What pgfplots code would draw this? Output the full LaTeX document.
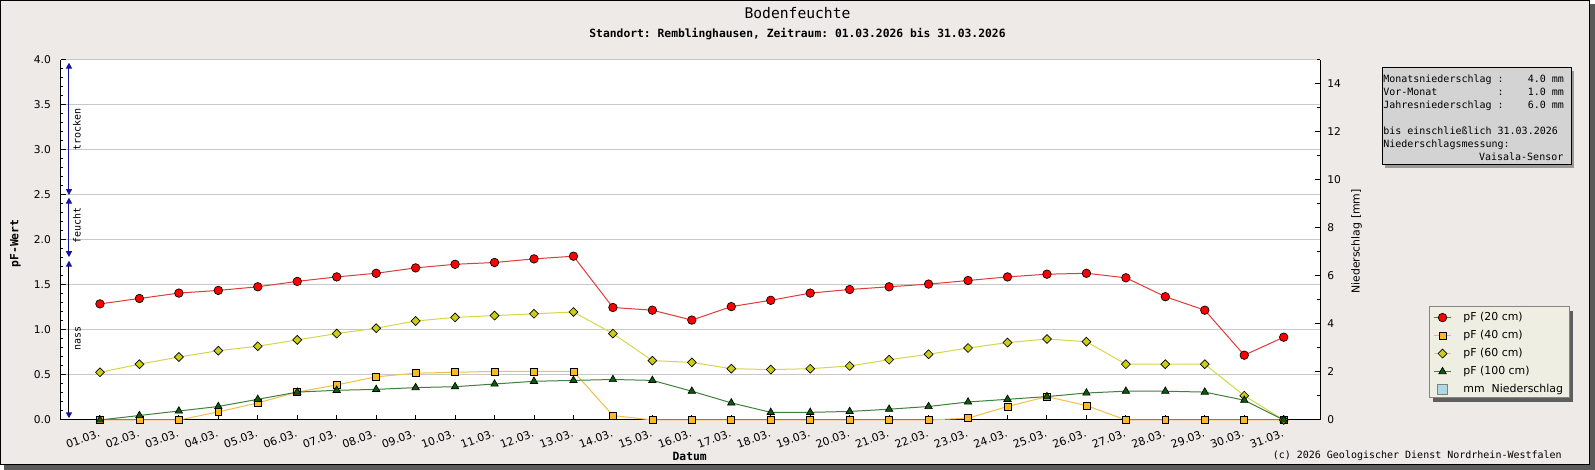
\documentclass[border=0pt]{standalone}
\usepackage{fontspec}
\setmainfont{DejaVu Sans}
\setmonofont{DejaVu Sans Mono}
\usepackage{pgfplots}
\pgfplotsset{compat=1.18}
\usetikzlibrary{arrows.meta}

\definecolor{bgc}{HTML}{EDEAE8}
\definecolor{framesh}{HTML}{5A5A5A}
\definecolor{gridc}{HTML}{C8C8C8}
\definecolor{c20}{HTML}{FF0000}
\definecolor{l20}{HTML}{E03A3A}
\definecolor{c40}{HTML}{FBB827}
\definecolor{l40}{HTML}{F2BE4A}
\definecolor{c60}{HTML}{CCCC1A}
\definecolor{l60}{HTML}{D6D64A}
\definecolor{c100}{HTML}{0A5E0A}
\definecolor{l100}{HTML}{3F7F3F}
\definecolor{annblue}{HTML}{1414A0}
\definecolor{legbg}{HTML}{EEEEE3}
\definecolor{legbd}{HTML}{858585}
\definecolor{legsh}{HTML}{5E5E5E}
\definecolor{infobg}{HTML}{D3D3D3}
\definecolor{infosh}{HTML}{9A9A9A}
\definecolor{nsblue}{HTML}{ADD8E6}

\newcommand\fmono{\fontsize{7.5}{9}\selectfont\ttfamily}
\newcommand\fmonob{\fontsize{8.5}{10}\selectfont\ttfamily\bfseries}
\frenchspacing

\begin{document}
\begin{tikzpicture}[x=0.75pt,y=0.75pt]
% frame with shadow
\fill[framesh] (4,0) rectangle (1595,466);
\filldraw[fill=bgc, draw=black, line width=0.75pt] (0.5,5.5) rectangle (1589.5,469.5);
% legend box with shadow
\fill[legsh] (1433,68) rectangle (1573,159);
\filldraw[fill=legbg, draw=legbd, line width=0.75pt] (1429,72) rectangle (1569,163);

\begin{axis}[
  at={(45.375pt,37.5pt)}, anchor=south west,
  scale only axis, width=944.625pt, height=270pt,
  xmin=0, xmax=31.92, ymin=0, ymax=4,
  clip=false,
  axis background/.style={fill=white},
  axis x line*=bottom, axis y line*=left,
  axis line style={-, black, line width=0.75pt},
  tick pos=left,
  xtick={1,...,31},
  xticklabels={01.03.,02.03.,03.03.,04.03.,05.03.,06.03.,07.03.,08.03.,09.03.,10.03.,11.03.,12.03.,13.03.,14.03.,15.03.,16.03.,17.03.,18.03.,19.03.,20.03.,21.03.,22.03.,23.03.,24.03.,25.03.,26.03.,27.03.,28.03.,29.03.,30.03.,31.03.},
  ytick={0,0.5,...,4},
  minor y tick num=4,
  ymajorgrids, major grid style={gridc, line width=0.75pt},
  major tick length=4pt, minor tick length=2.2pt,
  tick style={black, line width=0.75pt},
  tick label style={font=\fontsize{8}{9}\selectfont},
  xticklabel style={font=\fontsize{8.2}{9}\selectfont},
  yticklabel={\pgfmathprintnumber[fixed,fixed zerofill,precision=1,assume math mode=true]{\tick}},
  yticklabel style={inner sep=0pt, xshift=-7pt},
  xticklabel style={inner sep=0pt, xshift=-1.5pt, yshift=-6.5pt, rotate=20, anchor=north east},
  legend style={at={(1.0865,0.3139)}, anchor=north west, draw=none, fill=none, outer sep=0pt,
    inner xsep=3.4pt, inner ysep=1.2pt, row sep=0pt,
    font=\fontsize{8.2}{9}\selectfont,
    cells={anchor=west, minimum height=13.5pt, inner xsep=0pt, inner ysep=0pt},
    /tikz/every odd column/.append style={column sep=6.9pt}},
  legend image code/.code={\draw[mark repeat=2, mark phase=2, #1] plot coordinates {(0pt,0pt) (6.4pt,0pt) (12.8pt,0pt)};},
]
\addplot[l20, line width=0.75pt, mark=*, mark size=3.2pt, mark options={fill=c20, draw=black, line width=0.5pt}] coordinates {
(1,1.29) (2,1.35) (3,1.41) (4,1.44) (5,1.48) (6,1.54) (7,1.59) (8,1.63) (9,1.69) (10,1.73)
(11,1.75) (12,1.79) (13,1.82) (14,1.25) (15,1.22) (16,1.11) (17,1.26) (18,1.33) (19,1.41) (20,1.45)
(21,1.48) (22,1.51) (23,1.55) (24,1.59) (25,1.62) (26,1.63) (27,1.58) (28,1.37) (29,1.22) (30,0.72) (31,0.92)};
\addlegendentry{pF (20 cm)}
\addplot[l40, line width=0.75pt, mark=square*, mark size=2.6pt, mark options={fill=c40, draw=black, line width=0.5pt}] coordinates {
(1,0) (2,0) (3,0) (4,0.09) (5,0.19) (6,0.31) (7,0.39) (8,0.48) (9,0.52) (10,0.53)
(11,0.54) (12,0.54) (13,0.54) (14,0.05) (15,0) (16,0) (17,0) (18,0) (19,0) (20,0)
(21,0) (22,0) (23,0.02) (24,0.15) (25,0.26) (26,0.16) (27,0) (28,0) (29,0) (30,0) (31,0)};
\addlegendentry{pF (40 cm)}
\addplot[l60, line width=0.75pt, mark=square*, mark size=2.35pt, mark options={rotate=45, fill=c60, draw=black, line width=0.5pt}] coordinates {
(1,0.53) (2,0.62) (3,0.70) (4,0.77) (5,0.82) (6,0.89) (7,0.96) (8,1.02) (9,1.10) (10,1.14)
(11,1.16) (12,1.18) (13,1.20) (14,0.96) (15,0.66) (16,0.64) (17,0.57) (18,0.56) (19,0.57) (20,0.60)
(21,0.67) (22,0.73) (23,0.80) (24,0.86) (25,0.90) (26,0.87) (27,0.62) (28,0.62) (29,0.62) (30,0.27) (31,0)};
\addlegendentry{pF (60 cm)}
\addplot[l100, line width=0.75pt, mark=triangle*, mark size=3.2pt, mark options={fill=c100, draw=black, line width=0.5pt}] coordinates {
(1,0) (2,0.05) (3,0.10) (4,0.15) (5,0.23) (6,0.31) (7,0.33) (8,0.34) (9,0.36) (10,0.37)
(11,0.40) (12,0.43) (13,0.44) (14,0.45) (15,0.44) (16,0.32) (17,0.19) (18,0.085) (19,0.085) (20,0.095)
(21,0.12) (22,0.15) (23,0.20) (24,0.23) (25,0.26) (26,0.30) (27,0.32) (28,0.32) (29,0.31) (30,0.22) (31,0)};
\addlegendentry{pF (100 cm)}
\addlegendimage{legend image code/.code={\path (0pt,-3.5pt) (12.8pt,3.5pt); \draw[fill=nsblue, draw=gray, line width=0.75pt] (2.65pt,-3.5pt) rectangle (10.15pt,3.5pt);}}
\addlegendentry{mm~~Niederschlag}

% moisture class arrows
\draw[annblue, line width=0.75pt, {Triangle[width=4.6pt,length=4.4pt]}-{Triangle[width=4.6pt,length=4.4pt]}] (axis cs:0.215,2.50) -- (axis cs:0.215,3.97);
\draw[annblue, line width=0.75pt, {Triangle[width=4.6pt,length=4.4pt]}-{Triangle[width=4.6pt,length=4.4pt]}] (axis cs:0.215,1.81) -- (axis cs:0.215,2.47);
\draw[black, line width=0.75pt, {Triangle[width=4.6pt,length=4.4pt,color=annblue]}-{Triangle[width=4.6pt,length=4.4pt,color=annblue]}] (axis cs:0.215,0.02) -- (axis cs:0.215,1.77);
\node[rotate=90, anchor=base, font=\fmono, inner sep=0pt] at (axis cs:0.507,3.23) {trocken};
\node[rotate=90, anchor=base, font=\fmono, inner sep=0pt] at (axis cs:0.507,2.16) {feucht};
\node[rotate=90, anchor=base, font=\fmono, inner sep=0pt] at (axis cs:0.507,0.91) {nass};
\end{axis}

\begin{axis}[
  at={(45.375pt,37.5pt)}, anchor=south west,
  scale only axis, width=944.625pt, height=270pt,
  xmin=0, xmax=31.92, ymin=0, ymax=15,
  axis x line=none, axis y line*=right,
  axis line style={-, black, line width=0.75pt},
  xtick=\empty,
  ytick={0,2,...,14}, minor ytick={1,3,...,15},
  ytick pos=right, yticklabel pos=right,
  major tick length=4pt, minor tick length=2.2pt,
  tick style={black, line width=0.75pt},
  tick label style={font=\fontsize{8}{9}\selectfont},
  yticklabel={\pgfmathprintnumber[assume math mode=true]{\tick}},
  yticklabel style={inner sep=0pt, xshift=5.25pt},
]
\addplot[draw=none] coordinates {(1,0)};
\end{axis}

% titles and labels
\node[font=\fontsize{11}{12}\selectfont\ttfamily, anchor=base] at (797.5,451.7) {Bodenfeuchte};
\node[font=\fmonob, anchor=base] at (797.5,432.3) {Standort: Remblinghausen, Zeitraum: 01.03.2026 bis 31.03.2026};
\node[font=\fmonob, rotate=90] at (15.5,226.5) {pF-Wert};
\node[font=\fmonob, anchor=base] at (689.7,9.3) {Datum};
\node[font=\fontsize{8.2}{10}\selectfont, rotate=90] at (1356.7,228.5) {Niederschlag [mm]};
\node[font=\fmono, anchor=base east, inner sep=0pt] at (1562,11.8) {(c) 2026 Geologischer Dienst Nordrhein-Westfalen};

% info box
\fill[infosh] (1385,302) rectangle (1574,399);
\filldraw[fill=infobg, draw=black, line width=0.75pt] (1382,305) rectangle (1571,402);
\node[font=\fmono, anchor=base west, inner sep=0pt] at (1383,387.3) {Monatsniederschlag\ :\ \ \ \ 4.0\ mm};
\node[font=\fmono, anchor=base west, inner sep=0pt] at (1383,374.3) {Vor-Monat\ \ \ \ \ \ \ \ \ \ :\ \ \ \ 1.0\ mm};
\node[font=\fmono, anchor=base west, inner sep=0pt] at (1383,361.3) {Jahresniederschlag\ :\ \ \ \ 6.0\ mm};
\node[font=\fmono, anchor=base west, inner sep=0pt] at (1383,335.3) {bis\ einschließlich\ 31.03.2026};
\node[font=\fmono, anchor=base west, inner sep=0pt] at (1383,322.3) {Niederschlagsmessung:};
\node[font=\fmono, anchor=base east, inner sep=0pt] at (1563.6,309.3) {Vaisala-Sensor};
\end{tikzpicture}
\end{document}
